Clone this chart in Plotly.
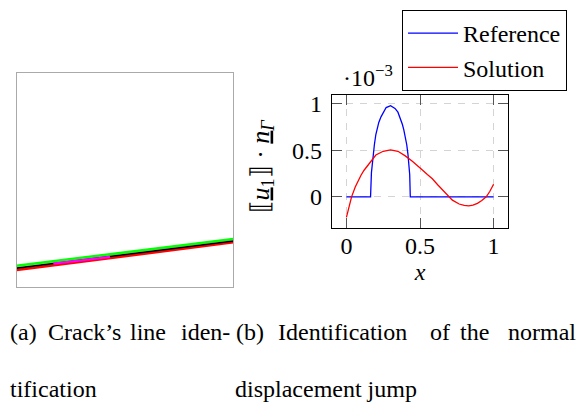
import plotly.graph_objects as go

# page body has an 8px margin: figure is drawn at (8, 8) in the window
OFF = 8
W, H = 584 - OFF, 403 - OFF
FONT = "Liberation Serif"

# ---------- (a) crack's line identification ----------
crack_x = [0.0, 1.0]
green_y = [0.100, 0.225]
red_line_y = [0.080, 0.210]
black_y = [0.089, 0.216]
magenta_x = [0.169, 0.431]
magenta_y = [0.110, 0.142]

# ---------- (b) normal displacement jump (x 1e-3) ----------
ref_x = [0.0, 0.164, 0.170, 0.176, 0.183, 0.19, 0.20, 0.21, 0.22, 0.235, 0.25, 0.27,
         0.30, 0.33, 0.35, 0.365, 0.38, 0.39, 0.40, 0.41, 0.418, 0.425, 0.430, 0.434, 1.0]
ref_y = [0.0, 0.0, 0.26, 0.37, 0.45, 0.56, 0.67, 0.74, 0.80, 0.86, 0.91, 0.96,
         0.98, 0.95, 0.91, 0.85, 0.78, 0.72, 0.65, 0.56, 0.46, 0.35, 0.24, 0.0, 0.0]

sol_x = [0.0, 0.02, 0.035, 0.06, 0.08, 0.10, 0.12, 0.15, 0.185, 0.20, 0.25, 0.30, 0.35,
         0.40, 0.45, 0.493, 0.52, 0.55, 0.584, 0.62, 0.65, 0.694, 0.72, 0.766, 0.80,
         0.831, 0.86, 0.89, 0.92, 0.95, 0.975, 1.0]
sol_y = [-0.22, -0.09, 0.0, 0.105, 0.175, 0.235, 0.286, 0.35, 0.43, 0.45, 0.49, 0.504, 0.49,
         0.44, 0.38, 0.327, 0.284, 0.24, 0.195, 0.13, 0.08, 0.0, -0.035, -0.077, -0.092,
         -0.096, -0.09, -0.07, -0.04, 0.0, 0.06, 0.135]

x_ticks = [0, 0.5, 1]
x_tick_text = ["0", "0.5", "1"]
y_ticks = [0, 0.5, 1]
y_tick_text = ["0", "0.5", "1"]

def px_x(p):
    return (p - OFF) / W

def px_y(p):
    return 1 - (p - OFF) / H

fig = go.Figure()

# left panel
fig.add_trace(go.Scatter(x=crack_x, y=red_line_y, mode="lines", line=dict(color="#ff0000", width=2.6),
                         xaxis="x", yaxis="y", showlegend=False))
fig.add_trace(go.Scatter(x=crack_x, y=green_y, mode="lines", line=dict(color="#00ff00", width=2.6),
                         xaxis="x", yaxis="y", showlegend=False))
fig.add_trace(go.Scatter(x=crack_x, y=black_y, mode="lines", line=dict(color="#000000", width=1.6),
                         xaxis="x", yaxis="y", showlegend=False))
fig.add_trace(go.Scatter(x=magenta_x, y=magenta_y, mode="lines", line=dict(color="#ff00ff", width=2.2),
                         xaxis="x", yaxis="y", showlegend=False))

# right panel
fig.add_trace(go.Scatter(x=ref_x, y=ref_y, mode="lines", name="Reference",
                         line=dict(color="#0000ff", width=1.3), xaxis="x2", yaxis="y2"))
fig.add_trace(go.Scatter(x=sol_x, y=sol_y, mode="lines", name="Solution",
                         line=dict(color="#ff0000", width=1.3), xaxis="x2", yaxis="y2"))

tickfont = dict(family=FONT, size=24, color="black")

fig.update_layout(
    width=W, height=H, autosize=False,
    margin=dict(l=0, r=0, t=0, b=0),
    paper_bgcolor="white", plot_bgcolor="white",
    font=dict(family=FONT, size=24, color="black"),
    xaxis=dict(domain=[px_x(16.7), px_x(233.3)], range=[0, 1], showline=True, mirror=True,
               linecolor="#aaaaaa", linewidth=1, showgrid=False, zeroline=False,
               showticklabels=False, ticks=""),
    yaxis=dict(domain=[px_y(286), px_y(70)], range=[0, 1], showline=True, mirror=True,
               linecolor="#aaaaaa", linewidth=1, showgrid=False, zeroline=False,
               showticklabels=False, ticks=""),
    xaxis2=dict(domain=[px_x(331.7), px_x(508.3)], range=[-0.1, 1.1], anchor="y2",
                tickvals=x_ticks, ticktext=x_tick_text, tickfont=tickfont,
                showline=True, mirror="ticks", linecolor="black", linewidth=1,
                ticks="inside", ticklen=10, tickcolor="#555555", tickwidth=1,
                showgrid=True, gridcolor="#d4d4d4", griddash="7px,7px", gridwidth=1,
                zeroline=False, ticklabelstandoff=-4,
                title=dict(text="<i>x</i>", font=dict(family=FONT, size=24), standoff=0)),
    yaxis2=dict(domain=[px_y(226.7), px_y(92)], range=[-0.34, 1.093], anchor="x2",
                tickvals=y_ticks, ticktext=y_tick_text, tickfont=tickfont,
                showline=True, mirror="ticks", linecolor="black", linewidth=1,
                ticks="inside", ticklen=10, tickcolor="#555555", tickwidth=1,
                showgrid=True, gridcolor="#d4d4d4", griddash="7px,7px", gridwidth=1,
                zeroline=False, ticklabelstandoff=4),
    legend=dict(x=px_x(402), y=px_y(6), xanchor="left", yanchor="top",
                bordercolor="black", borderwidth=1, bgcolor="white",
                font=dict(family=FONT, size=24, color="black"),
                tracegroupgap=0, itemwidth=50),
)

def text_ann(txt, xp, yp, xanchor="left", size=24, **kw):
    d = dict(x=px_x(xp), y=px_y(yp), text=txt, showarrow=False, xref="paper", yref="paper",
             xanchor=xanchor, yanchor="middle", font=dict(family=FONT, size=size))
    d.update(kw)
    return d

annotations = [
    # y-axis label (rotated)
    text_ann("⟦<u><i>u</i></u><sub>1</sub>⟧ · <u><i>n</i></u><sub><i>Γ</i></sub>", 262, 164,
             xanchor="center", size=26, textangle=-90),
    # exponent
    text_ann("·10<sup>−3</sup>", 341, 73),
]
words_a = [("(a)", 8, "left"), ("Crack’s", 46, "left"), ("line", 128, "left"), ("iden-", 232, "right")]
for w, xp, anc in words_a:
    annotations.append(text_ann(w, xp, 331, xanchor=anc))
words_b = [("(b)", 234, "left"), ("Identification", 276, "left"), ("of", 428, "left"),
           ("the", 458, "left"), ("normal", 578, "right")]
for w, xp, anc in words_b:
    annotations.append(text_ann(w, xp, 331, xanchor=anc))
annotations += [
    text_ann("tification", 8, 389),
    text_ann("displacement jump", 233, 389),
]
fig.update_layout(annotations=annotations)

fig.write_html("out.html")
